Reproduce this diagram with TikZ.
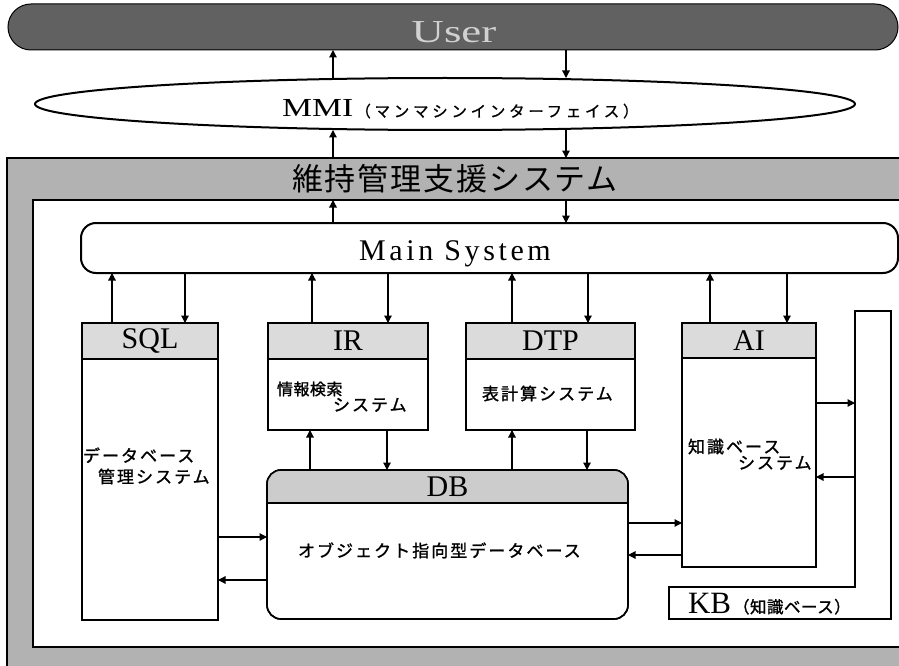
\documentclass[tikz,border=0pt]{standalone}
\usepackage{fontspec}
\usepackage{graphicx}
\setmainfont{Liberation Serif}
\newfontfamily\jpsp[LetterSpace=12,BoldFont={Noto Sans CJK JP},BoldFeatures={FakeBold=1.3}]{Noto Sans CJK JP}
\newfontfamily\jpk[LetterSpace=3,BoldFont={Noto Sans CJK JP},BoldFeatures={FakeBold=1.3}]{Noto Sans CJK JP}
\newfontfamily\jpmmi[LetterSpace=24,BoldFont={Noto Sans CJK JP},BoldFeatures={FakeBold=1}]{Noto Sans CJK JP}
\newfontfamily\jpkb[LetterSpace=3,BoldFont={Noto Sans CJK JP},BoldFeatures={FakeBold=1.3}]{Noto Sans CJK JP}
\newfontfamily\jptitle[LetterSpace=6]{Noto Sans CJK JP}
\newfontfamily\sermain[LetterSpace=12]{Liberation Serif}
\usetikzlibrary{arrows.meta,shapes.geometric,calc}
\definecolor{bandgray}{gray}{0.70}
\definecolor{hdrgray}{gray}{0.86}
\definecolor{dbgray}{gray}{0.80}
\definecolor{usergray}{gray}{0.38}
\definecolor{usertext}{gray}{0.82}
\begin{document}
\begin{tikzpicture}[x=1pt,y=-1pt,
  every node/.style={inner sep=0pt,outer sep=0pt},
  arr/.style={line width=1.2pt,-{Triangle[length=7.5pt,width=7.5pt]}},
  sysbox/.style={draw,line width=1.6pt,fill=white,anchor=north west},
  hdr/.style={draw,line width=1.6pt,fill=hdrgray,anchor=north west,minimum height=36pt,font=\fontsize{30}{32}\selectfont},
  jtext/.style={font=\jpsp\bfseries\fontsize{17}{18}\selectfont,anchor=base west},
  ktext/.style={font=\jpk\bfseries\fontsize{16}{18}\selectfont,anchor=base west}
]
\useasboundingbox (0,0) rectangle (899,666);
\clip (0,0) rectangle (899,666);

% outer frame of the support system (its right side runs off the picture)
\fill[bandgray] (7,158) rectangle (899,666);
\draw[line width=1.2pt] (899,158) -- (7,158) -- (7,666);
\fill[white] (33,200) rectangle (899,647);
\draw[line width=1.4pt] (899,200) -- (33,200) -- (33,647) -- (899,647);
\coordinate (frame) at (450,158);
\coordinate (inner) at (450,200);
\node[font=\jptitle\fontsize{31}{33}\selectfont,anchor=base] (title) at (455,190) {維持管理支援システム};

% user bar
\node[fill=usergray,draw=black,line width=1pt,rounded corners=23pt,minimum width=890pt,minimum height=46pt] (user) at (453,27) {};
\node[anchor=base,text=usertext] (usertxt) at (454,43) {\scalebox{1.4}[1]{\fontsize{32}{34}\selectfont User}};

% MMI
\node[ellipse,draw,line width=2pt,fill=white,minimum width=820pt,minimum height=52pt] (mmi) at (445,104) {};
\node[anchor=base west] (mmitxt) at (282,117) {\scalebox{1.3}[1]{\fontsize{26}{28}\selectfont MMI}\hspace{2pt}{\jpmmi\bfseries\fontsize{15.5}{16}\selectfont （マンマシンインターフェイス）}};

% main system
\node[draw,line width=2pt,fill=white,rounded corners=15pt,anchor=north west,minimum width=817pt,minimum height=50pt] (main) at (81,223) {};
\node[anchor=base,font=\sermain\fontsize{30}{32}\selectfont] (maintxt) at (455,260) {Main System};

% subsystems
\node[sysbox,minimum width=136pt,minimum height=297pt] (sql) at (82,323) {};
\node[hdr,minimum width=136pt] (sqlh) at (82,323) {SQL};
\node[sysbox,minimum width=160pt,minimum height=107pt] (ir) at (268,323) {};
\node[hdr,minimum width=160pt] (irh) at (268,323) {IR};
\node[sysbox,minimum width=169pt,minimum height=107pt] (dtp) at (466,323) {};
\node[hdr,minimum width=169pt] (dtph) at (466,323) {DTP};
\node[sysbox,minimum width=134pt,minimum height=244pt] (ai) at (682,323) {};
\node[hdr,minimum width=134pt,minimum height=35pt] (aih) at (682,323) {AI};

% DB
\node[sysbox,rounded corners=14pt,minimum width=361pt,minimum height=149pt] (db) at (267,470) {};
\begin{scope}
  \clip[rounded corners=14pt] (db.north west) rectangle (db.south east);
  \fill[dbgray] (db.north west) rectangle ($(db.north east)+(0,33)$);
\end{scope}
\draw[line width=1.6pt] ($(db.north west)+(0,33)$) -- ($(db.north east)+(0,33)$);
\draw[line width=1.6pt,rounded corners=14pt] (db.north west) rectangle (db.south east);
\node[font=\fontsize{30}{32}\selectfont] (dbh) at ($(db.north)+(0,17)$) {DB};

% KB
\coordinate (kbin) at (855,311);
\draw[line width=1.6pt,fill=white] (kbin) -- (891,311) -- (891,619) -- (669,619) -- (669,587) -- (855,587) -- cycle;
\node[anchor=base west] (kbtxt) at (688,613) {{\fontsize{31}{33}\selectfont KB}\hspace{2pt}{\jpkb\bfseries\fontsize{16.5}{17}\selectfont （知識ベース）}};

% texts
\node[jtext] (sqlt1) at (83,462) {データベース};
\node[jtext] (sqlt2) at (98,483) {管理システム};
\node[ktext] (irt1) at (277,395) {情報検索};
\node[jtext] (irt2) at (333,411) {システム};
\node[jtext] (dtpt) at (482,400) {表計算システム};
\node[jtext] (ait1) at (688,453) {知識ベース};
\node[jtext] (ait2) at (738,469) {システム};
\node[jtext] (dbt) at (298,557) {オブジェクト指向型データベース};

% connectors
\draw[arr] (user.south -| 566,0) -- (mmi.north -| 566,0);
\draw[arr] (mmi.north -| 333,0) -- (user.south -| 333,0);
\draw[arr] (frame -| 333,0) -- (mmi.south -| 333,0);
\draw[arr] (mmi.south -| 566,0) -- (frame -| 566,0);
\draw[arr] (main.north -| 333,0) -- (inner -| 333,0);
\draw[arr] (inner -| 566,0) -- (main.north -| 566,0);

\draw[arr] (sql.north -| 112,0) -- (main.south -| 112,0);
\draw[arr] (main.south -| 185,0) -- (sql.north -| 185,0);
\draw[arr] (ir.north -| 312,0) -- (main.south -| 312,0);
\draw[arr] (main.south -| 388,0) -- (ir.north -| 388,0);
\draw[arr] (dtp.north -| 512,0) -- (main.south -| 512,0);
\draw[arr] (main.south -| 588,0) -- (dtp.north -| 588,0);
\draw[arr] (ai.north -| 710,0) -- (main.south -| 710,0);
\draw[arr] (main.south -| 787,0) -- (ai.north -| 787,0);

\draw[arr] (db.north -| 310,0) -- (ir.south -| 310,0);
\draw[arr] (ir.south -| 387,0) -- (db.north -| 387,0);
\draw[arr] (db.north -| 512,0) -- (dtp.south -| 512,0);
\draw[arr] (dtp.south -| 587,0) -- (db.north -| 587,0);

\draw[arr] (sql.east |- 0,537) -- (db.west |- 0,537);
\draw[arr] (db.west |- 0,580) -- (sql.east |- 0,580);
\draw[arr] (db.east |- 0,523) -- (ai.west |- 0,523);
\draw[arr] (ai.west |- 0,555) -- (db.east |- 0,555);
\draw[arr] (ai.east |- 0,403) -- (kbin |- 0,403);
\draw[arr] (kbin |- 0,477) -- (ai.east |- 0,477);
\end{tikzpicture}
\end{document}
